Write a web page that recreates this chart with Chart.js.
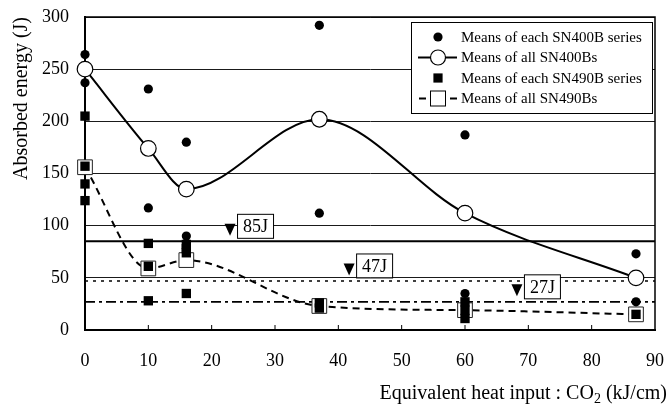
<!DOCTYPE html>
<html>
<head>
<meta charset="utf-8">
<script src="https://cdn.jsdelivr.net/npm/chart.js@4/dist/chart.umd.min.js"></script>
<style>
  html, body { margin: 0; padding: 0; background: #fff; }
  #wrap { width: 668px; height: 407px; }
</style>
</head>
<body>
<div id="wrap"><canvas id="c" width="668" height="407"></canvas></div>
<script>
// Heat input levels (kJ/cm) and the means over all specimens
const heatInput = [0, 10, 16, 37, 60, 87];
const sn400bAllMeans = [250, 174, 135, 202, 112, 50];
const sn490bAllMeans = [156, 59, 67, 23, 19, 15];

// Means of each individual series
const sn400bSeriesX = [0, 0, 10, 10, 16, 16, 37, 37, 60, 60, 87, 87];
const sn400bSeriesY = [264, 237, 231, 117, 180, 90, 292, 112, 187, 35, 73, 27];
const sn490bSeriesX = [0, 0, 0, 0, 10, 10, 10, 16, 16, 16, 16, 37, 37, 60, 60, 60, 87];
const sn490bSeriesY = [205, 157, 140, 124, 83, 61, 28, 82, 78, 74, 35, 26, 21, 27, 19, 11, 15];

// Required absorbed energies
const requiredEnergies = [85, 47, 27];
const requiredLabels = ['85J', '47J', '27J'];

const legendLabels = [
  'Means of each SN400B series',
  'Means of all SN400Bs',
  'Means of each SN490B series',
  'Means of all SN490Bs'
];
const xTitle = ['Equivalent heat input : CO', '2', ' (kJ/cm)'];
const yTitle = 'Absorbed energy (J)';

const SERIF = '"Liberation Serif", "Times New Roman", serif';

const pts = (xs, ys) => xs.map((x, i) => ({ x, y: ys[i] }));
const hline = v => [{ x: 0, y: v }, { x: 90, y: v }];

const refStyles = [
  { borderWidth: 2, borderDash: [] },
  { borderWidth: 1.6, borderDash: [3, 5] },
  { borderWidth: 1.6, borderDash: [10, 4, 3, 4] }
];

const datasets = [
  {
    label: legendLabels[0], data: pts(sn400bSeriesX, sn400bSeriesY), showLine: false,
    pointStyle: 'circle', pointRadius: 4.6, backgroundColor: '#000', borderWidth: 0, order: 0, clip: false
  },
  {
    label: legendLabels[2], data: pts(sn490bSeriesX, sn490bSeriesY), showLine: false,
    pointStyle: 'rect', pointRadius: 6.6, backgroundColor: '#000', borderWidth: 0, order: 1, clip: false
  },
  {
    label: legendLabels[1], data: pts(heatInput, sn400bAllMeans), showLine: true,
    cubicInterpolationMode: 'monotone', borderColor: '#000', borderWidth: 2,
    pointStyle: 'circle', pointRadius: 7.8, pointBackgroundColor: '#fff', pointBorderColor: '#000',
    pointBorderWidth: 1.2, order: 2, clip: false
  },
  {
    label: legendLabels[3], data: pts(heatInput, sn490bAllMeans), showLine: true,
    cubicInterpolationMode: 'monotone', borderColor: '#000', borderWidth: 2, borderDash: [7, 5],
    pointStyle: 'rect', pointRadius: 10.4, pointBackgroundColor: '#fff', pointBorderColor: '#222',
    pointBorderWidth: 1, order: 3, clip: false
  }
];
requiredEnergies.forEach((v, i) => {
  datasets.push({
    label: requiredLabels[i], data: hline(v), showLine: true, pointRadius: 0,
    borderColor: '#000', borderWidth: refStyles[i].borderWidth, borderDash: refStyles[i].borderDash,
    order: 10 + i
  });
});

// Draws the frame, inner ticks, axis titles, the legend box and the requirement labels
const decorations = {
  id: 'decorations',
  afterDatasetsDraw(chart, args, opts) {
    const { ctx, chartArea: a, scales: { x, y } } = chart;
    ctx.save();

    // top and right edges of the frame
    ctx.strokeStyle = '#000';
    ctx.lineWidth = 1.5;
    ctx.beginPath();
    ctx.moveTo(a.left, a.top); ctx.lineTo(a.right, a.top); ctx.lineTo(a.right, a.bottom);
    ctx.stroke();

    // inward tick marks on the horizontal axis
    ctx.lineWidth = 1;
    for (let v = 10; v < 90; v += 10) {
      const px = x.getPixelForValue(v);
      ctx.beginPath(); ctx.moveTo(px, a.bottom); ctx.lineTo(px, a.bottom - 5); ctx.stroke();
    }

    // requirement markers: triangle + boxed label
    ctx.font = '18px ' + SERIF;
    ctx.textAlign = 'center';
    ctx.textBaseline = 'middle';
    requiredEnergies.forEach((v, i) => {
      const tx = x.getPixelForValue(opts.labelAt[i]);
      const ty = y.getPixelForValue(v) - 5.5;
      ctx.fillStyle = '#000';
      ctx.beginPath();
      ctx.moveTo(tx - 5.5, ty - 12); ctx.lineTo(tx + 5.5, ty - 12); ctx.lineTo(tx, ty);
      ctx.closePath(); ctx.fill();
      const bx = tx + 7, bw = 36, bh = 24, by = ty + 2 - bh;
      ctx.fillStyle = '#fff';
      ctx.fillRect(bx, by, bw, bh);
      ctx.lineWidth = 1;
      ctx.strokeRect(bx + 0.5, by + 0.5, bw, bh);
      ctx.fillStyle = '#000';
      ctx.fillText(requiredLabels[i], bx + bw / 2 + 0.5, by + bh / 2 + 1.5);
    });

    // legend
    const L = opts.legend;
    ctx.fillStyle = '#fff';
    ctx.fillRect(L.left, L.top, L.width, L.height);
    ctx.strokeStyle = '#000';
    ctx.lineWidth = 1;
    ctx.strokeRect(L.left + 0.5, L.top + 0.5, L.width, L.height);
    ctx.font = '15px ' + SERIF;
    ctx.textAlign = 'left';
    ctx.textBaseline = 'middle';
    const mx = L.left + 27;
    legendLabels.forEach((t, i) => {
      const ry = L.top + 15 + i * 20.5;
      ctx.fillStyle = '#000';
      ctx.strokeStyle = '#000';
      if (i === 0) {
        ctx.beginPath(); ctx.arc(mx, ry, 4.6, 0, Math.PI * 2); ctx.fill();
      } else if (i === 1) {
        ctx.lineWidth = 2;
        ctx.beginPath(); ctx.moveTo(mx - 20, ry); ctx.lineTo(mx + 19, ry); ctx.stroke();
        ctx.fillStyle = '#fff'; ctx.lineWidth = 1.2;
        ctx.beginPath(); ctx.arc(mx, ry, 7.5, 0, Math.PI * 2); ctx.fill(); ctx.stroke();
      } else if (i === 2) {
        ctx.fillRect(mx - 4.6, ry - 4.6, 9.2, 9.2);
      } else {
        ctx.lineWidth = 2;
        ctx.beginPath();
        ctx.moveTo(mx - 19, ry); ctx.lineTo(mx - 12, ry);
        ctx.moveTo(mx + 12, ry); ctx.lineTo(mx + 19, ry);
        ctx.stroke();
        ctx.fillStyle = '#fff'; ctx.lineWidth = 1;
        ctx.fillRect(mx - 7.5, ry - 7.5, 15, 15);
        ctx.strokeRect(mx - 7.5, ry - 7.5, 15, 15);
      }
      ctx.fillStyle = '#000';
      ctx.fillText(t, L.left + 50, ry + 1);
    });

    // vertical axis title, ending at the top of the plot
    ctx.save();
    ctx.translate(22, a.top);
    ctx.rotate(-Math.PI / 2);
    ctx.font = '20px ' + SERIF;
    ctx.textAlign = 'right';
    ctx.textBaseline = 'middle';
    ctx.fillText(yTitle, 0, 0);
    ctx.restore();

    // horizontal axis title with subscript, right aligned
    const big = '20px ' + SERIF, small = '14px ' + SERIF;
    ctx.textAlign = 'left';
    ctx.textBaseline = 'alphabetic';
    ctx.font = big; const w0 = ctx.measureText(xTitle[0]).width;
    ctx.font = small; const w1 = ctx.measureText(xTitle[1]).width;
    ctx.font = big; const w2 = ctx.measureText(xTitle[2]).width;
    let tx = 667 - (w0 + w1 + w2);
    const base = 399;
    ctx.font = big; ctx.fillText(xTitle[0], tx, base); tx += w0;
    ctx.font = small; ctx.fillText(xTitle[1], tx, base + 4); tx += w1;
    ctx.font = big; ctx.fillText(xTitle[2], tx, base);

    ctx.restore();
  }
};

new Chart(document.getElementById('c'), {
  type: 'scatter',
  data: { datasets },
  options: {
    responsive: false,
    animation: false,
    devicePixelRatio: 1,
    layout: { padding: { top: 17, right: 13, left: 0, bottom: 0 } },
    plugins: {
      legend: { display: false },
      tooltip: { enabled: false },
      decorations: {
        labelAt: [22.9, 41.7, 68.2],
        legend: { left: 411, top: 22, width: 241, height: 91 }
      }
    },
    scales: {
      x: {
        type: 'linear', min: 0, max: 90,
        afterFit: s => { s.height = 77; s.paddingLeft = 0; s.paddingRight = 0; },
        ticks: { stepSize: 10, padding: 20, color: '#000', font: { family: SERIF, size: 18 } },
        grid: { drawOnChartArea: false, drawTicks: false },
        border: { color: '#000', width: 2 }
      },
      y: {
        type: 'linear', min: 0, max: 300,
        afterFit: s => { s.width = 85; s.paddingTop = 0; s.paddingBottom = 0; },
        ticks: { stepSize: 50, padding: 16, color: '#000', font: { family: SERIF, size: 18 } },
        grid: { color: '#1a1a1a', lineWidth: 1, drawTicks: false },
        border: { color: '#000', width: 2 }
      }
    }
  },
  plugins: [decorations]
});
</script>
</body>
</html>
